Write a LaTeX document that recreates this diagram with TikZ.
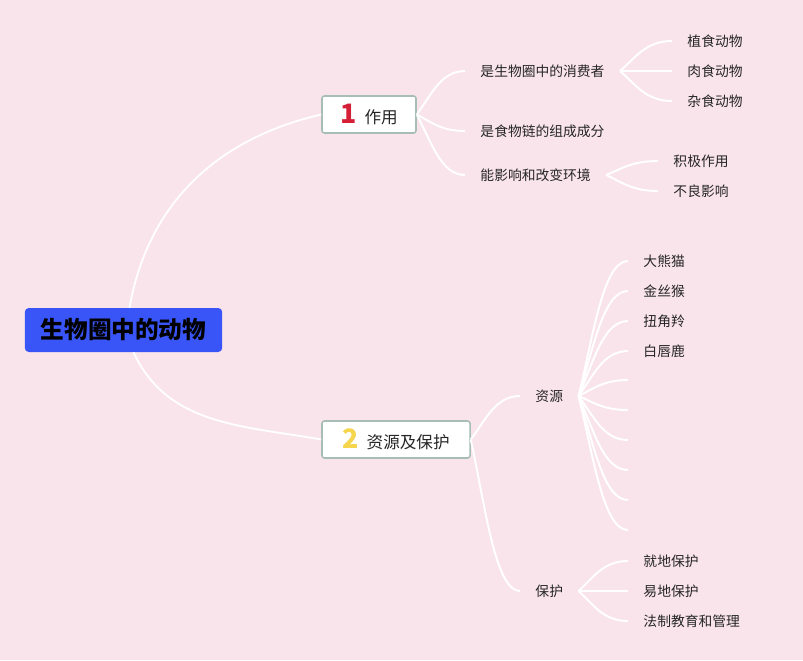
\documentclass[tikz,border=0pt]{standalone}
\usepackage{fontspec}
\setmainfont{Noto Sans CJK SC}
\usetikzlibrary{calc}

\definecolor{bgpink}{HTML}{F9E4EB}
\definecolor{rootblue}{HTML}{3A55F7}
\definecolor{boxline}{HTML}{A7BDB5}
\definecolor{numred}{HTML}{D51F36}
\definecolor{numyellow}{HTML}{F4D54C}
\definecolor{inktext}{HTML}{262626}

\begin{document}
\begin{tikzpicture}[
			x=0.025cm, y=-0.025cm,
			every node/.style={text=inktext},
			rootbox/.style={fill=rootblue, rounded corners=0.1cm, minimum height=1.1cm, inner xsep=0.4cm, text=black, font=\bfseries\fontsize{16.8}{18}\selectfont},
			topic/.style={draw=boxline, line width=1.1pt, fill=white, rounded corners=0.06cm, minimum height=0.925cm, inner xsep=0.45cm, inner ysep=0pt, font=\fontsize{11.8}{14}\selectfont},
			leaf/.style={anchor=west, inner xsep=0.38cm, inner ysep=0pt, font=\fontsize{9.8}{12}\selectfont},
			trunk/.style={draw=white, line width=1.3pt},
			branch/.style={draw=white, line width=1.4pt, to path={let \p1=(\tikztostart), \p2=(\tikztotarget) in
					.. controls ({\x1+0.3*(\x2-\x1)},{\y1+0.45*(\y2-\y1)}) and ({\x2-0.5*(\x2-\x1)},\y2) .. (\tikztotarget)}}
			]
			\fill[bgpink] (0,0) rectangle (803,660);
			
			\node[rootbox] (root) at (123.5,330) {生物圈中的动物};
			\node[topic, minimum width=2.35cm] (use) at (369,114.5) {\textcolor{numred}{\bfseries\fontsize{19}{19}\selectfont 1}\hspace{0.2cm}作用};
			\node[topic, minimum width=3.7cm] (res) at (396,439.5) {\textcolor{numyellow}{\bfseries\fontsize{19}{19}\selectfont 2}\hspace{0.2cm}资源及保护};
			
			\node[leaf] (consumer) at (465,71) {是生物圈中的消费者};
			\node[leaf] (chain) at (465,131) {是食物链的组成成分};
			\node[leaf] (env) at (465,175) {能影响和改变环境};
			\node[leaf] (herb) at (672,41) {植食动物};
			\node[leaf] (carn) at (672,71) {肉食动物};
			\node[leaf] (omni) at (672,101) {杂食动物};
			\node[leaf] (pos) at (658,161) {积极作用};
			\node[leaf] (neg) at (658,191) {不良影响};
			
			\node[leaf] (source) at (520,396) {资源};
			\node[leaf] (protect) at (520,591) {保护};
			\node[leaf] (panda) at (628,261) {大熊猫};
			\node[leaf] (monkey) at (628,291) {金丝猴};
			\node[leaf] (takin) at (628,321) {扭角羚};
			\node[leaf] (deer) at (628,351) {白唇鹿};
			\coordinate (e1) at (628,380);
			\coordinate (e2) at (628,410);
			\coordinate (e3) at (628,440);
			\coordinate (e4) at (628,470);
			\coordinate (e5) at (628,500);
			\coordinate (e6) at (628,530);
			\node[leaf] (insitu) at (628,561) {就地保护};
			\node[leaf] (exsitu) at (628,591) {易地保护};
			\node[leaf] (law) at (628,621) {法制教育和管理};
			
			% main arms
			\path ([xshift=0.15cm]root.north) edge[trunk, out=80, in=193] (use.west);
			\path ([xshift=0.25cm]root.south) edge[trunk, out=-65, in=170] (res.west);
			
			% role of animals
			\path (use.east) edge[branch] (consumer.west);
			\path (use.east) edge[branch] (chain.west);
			\path (use.east) edge[branch] (env.west);
			\path (consumer.east) edge[branch] (herb.west);
			\path (consumer.east) edge[branch] (carn.west);
			\path (consumer.east) edge[branch] (omni.west);
			\path (env.east) edge[branch] (pos.west);
			\path (env.east) edge[branch] (neg.west);
			
			% resources and protection
			\path (res.east) edge[branch] (source.west);
			\path (res.east) edge[branch] (protect.west);
			\path (source.east) edge[branch] (panda.west);
			\path (source.east) edge[branch] (monkey.west);
			\path (source.east) edge[branch] (takin.west);
			\path (source.east) edge[branch] (deer.west);
			\path (source.east) edge[branch] (e1);
			\path (source.east) edge[branch] (e2);
			\path (source.east) edge[branch] (e3);
			\path (source.east) edge[branch] (e4);
			\path (source.east) edge[branch] (e5);
			\path (source.east) edge[branch] (e6);
			\path (protect.east) edge[branch] (insitu.west);
			\path (protect.east) edge[branch] (exsitu.west);
			\path (protect.east) edge[branch] (law.west);
		\end{tikzpicture}
\end{document}
